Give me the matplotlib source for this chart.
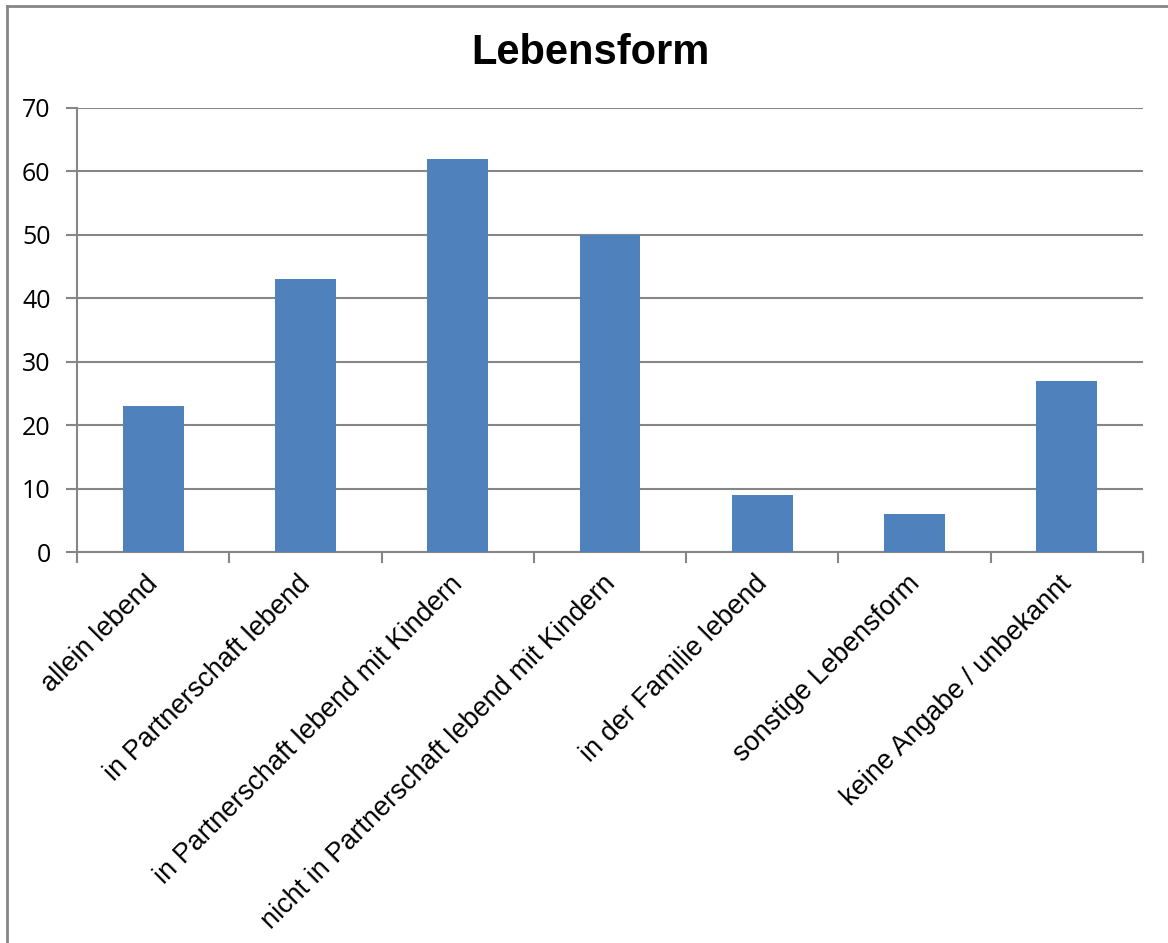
import matplotlib
matplotlib.use("Agg")
import matplotlib.pyplot as plt
from matplotlib.lines import Line2D
import matplotlib.transforms as mtransforms
import numpy as np

categories = ["allein lebend", "in Partnerschaft lebend", "in Partnerschaft lebend mit Kindern",
              "nicht in Partnerschaft lebend mit Kindern", "in der Familie lebend",
              "sonstige Lebensform", "keine Angabe / unbekannt"]
values = [23, 43, 62, 50, 9, 6, 27]
yticks = [0, 10, 20, 30, 40, 50, 60, 70]
title = "Lebensform"

W, H = 1168, 943
fig = plt.figure(figsize=(W / 100, H / 100), dpi=100)
ax = fig.add_axes([77 / W, 1 - 552 / H, (1143 - 77) / W, (552 - 108) / H])

gray = "#868686"
x = np.arange(len(categories))
ax.bar(x, values, width=0.4, color="#4F81BD", zorder=3)
ax.set_xlim(-0.5, len(categories) - 0.5)
ax.set_ylim(0, 70)
ax.set_yticks(yticks)
ax.set_yticklabels([str(v) for v in yticks], fontsize=18, family="Open Sans")
ax.yaxis.grid(True, color=gray, linewidth=1.5, zorder=0)
ax.set_axisbelow(True)

ax.set_xticks(x)
ax.set_xticklabels(categories, rotation=45, ha="right", rotation_mode="anchor",
                   fontsize=19.5, family="Liberation Sans")
ax.tick_params(axis="x", length=0, pad=15)
offset = mtransforms.ScaledTranslation(-8 / 100, 2 / 100, fig.dpi_scale_trans)
for lab in ax.get_xticklabels():
    lab.set_transform(lab.get_transform() + offset)
ax.set_xticks(np.arange(-0.5, len(categories), 1), minor=True)
ax.tick_params(axis="x", which="minor", length=8, width=1.5, color=gray, direction="out")
ax.tick_params(axis="y", length=8, width=1.5, color=gray, direction="out", pad=11)

for s in ["top", "right"]:
    ax.spines[s].set_visible(False)
for s in ["left", "bottom"]:
    ax.spines[s].set_color(gray)
    ax.spines[s].set_linewidth(1.5)

fig.text(590 / W, 1 - 53 / H, title, ha="center", va="center", fontsize=30,
         fontweight="bold", family="Liberation Sans")

fig.add_artist(Line2D([7 / W, 7 / W], [0, 1 - 6 / H], transform=fig.transFigure, color=gray, linewidth=2))
fig.add_artist(Line2D([7 / W, 1], [1 - 6 / H, 1 - 6 / H], transform=fig.transFigure, color=gray, linewidth=2))

fig.savefig("out.png", dpi=100)
